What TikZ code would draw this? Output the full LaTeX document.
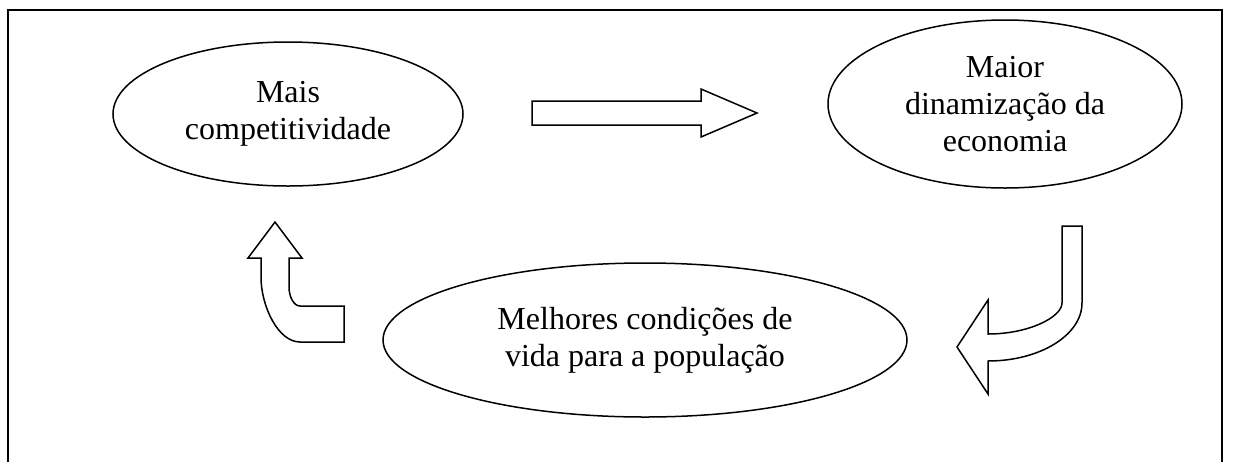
\documentclass[tikz,border=0pt]{standalone}
\usepackage{fontspec}
\setmainfont{Liberation Serif}
\usetikzlibrary{shapes.geometric}

\begin{document}
\begin{tikzpicture}[x=0.5pt,y=-0.5pt,
  bolha/.style={draw=black,ellipse,line width=0.75pt,inner sep=0pt,align=center,
    font=\fontsize{16pt}{18.5pt}\selectfont},
  seta/.style={draw=black,line width=0.75pt,line join=miter}]
\useasboundingbox (0,0) rectangle (1233,462);
\draw [black,line width=1pt] (8,462) -- (8,10) -- (1222,10) -- (1222,462);
\node [bolha,minimum width=175pt,minimum height=72pt] (competitividade) at (288,114) {Mais\\competitividade};
\node [bolha,minimum width=177pt,minimum height=84pt] (economia) at (1005,104) {Maior\\dinamização da\\economia};
\node [bolha,minimum width=262pt,minimum height=77pt] (populacao) at (645,340) {Melhores condições de\\vida para a população};
\draw [seta] (532,101) -- (701,101) -- (701,89) -- (757,113) -- (701,137) -- (701,125) -- (532,125) -- cycle;
\draw [seta] (1062,226) -- (1082,226) -- (1082,303) .. controls (1082,335) and (1040,361) .. (988,361)
  -- (988,394) -- (957,347) -- (988,300) -- (988,334) .. controls (1029,334) and (1062,317) .. (1062,303) -- cycle;
\draw [seta] (344,306) -- (344,342) -- (300,342) .. controls (278,342) and (261,306) .. (261,277)
  -- (261,258) -- (248,258) -- (275,222) -- (302,258) -- (289,258) -- (289,287)
  .. controls (289,297) and (294,306) .. (300,306) -- cycle;
\end{tikzpicture}
\end{document}
